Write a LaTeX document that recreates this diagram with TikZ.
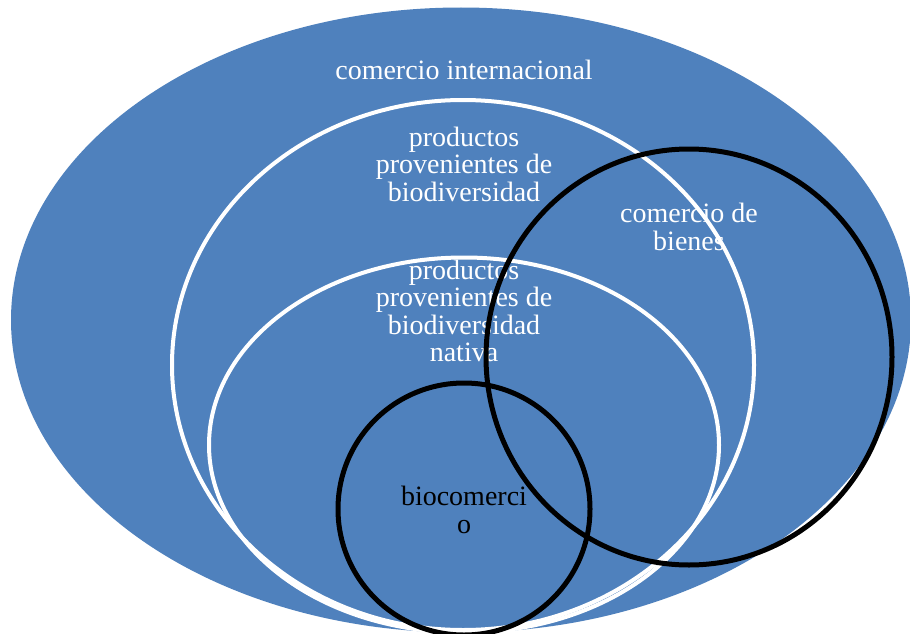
\documentclass[tikz,border=0pt]{standalone}
\usepackage{fontspec}
\setmainfont{Liberation Serif}
\usetikzlibrary{positioning, shapes.geometric}
\definecolor{setblue}{RGB}{79,129,189}

\begin{document}
\begin{tikzpicture}[x=1pt, y=-1pt, every node/.style={inner sep=0pt, outer sep=0pt}]
    \tikzset{
        ring/.style={ellipse, draw=white, line width=4pt},
        setring/.style={ellipse, draw=black, line width=5pt},
        lbl/.style={align=center, font=\fontsize{28}{27.5}\selectfont}
    }
    \clip (0,0) rectangle (910,634);
    \fill[white] (0,0) rectangle (910,634);

    \node[ellipse, fill=setblue, minimum width=900, minimum height=625] (intl) at (461,320) {};

    % labels go below the outlines
    \node[lbl, text=white] (intltxt) at (464,70) {comercio internacional};
    \node[lbl, text=white] (biotxt) at (464,164) {productos\\provenientes de\\biodiversidad};
    \node[lbl, text=white] (nattxt) at (464,311) {productos\\provenientes de\\biodiversidad\\nativa};
    \node[lbl, text=white] (bienestxt) at (689,227) {comercio de\\bienes};
    \node[lbl, text=black] (biocomtxt) at (464,510) {biocomerci\\o};

    \node[ring, minimum width=582, minimum height=530] (bio) at (463,365) {};
    \node[ring, minimum width=510, minimum height=375] (nat) at (464,445) {};
    \node[setring, minimum width=406, minimum height=416] (bienes) at (689,357) {};
    \node[setring, minimum width=252, minimum height=252] (biocom) at (464,509) {};
\end{tikzpicture}
\end{document}
